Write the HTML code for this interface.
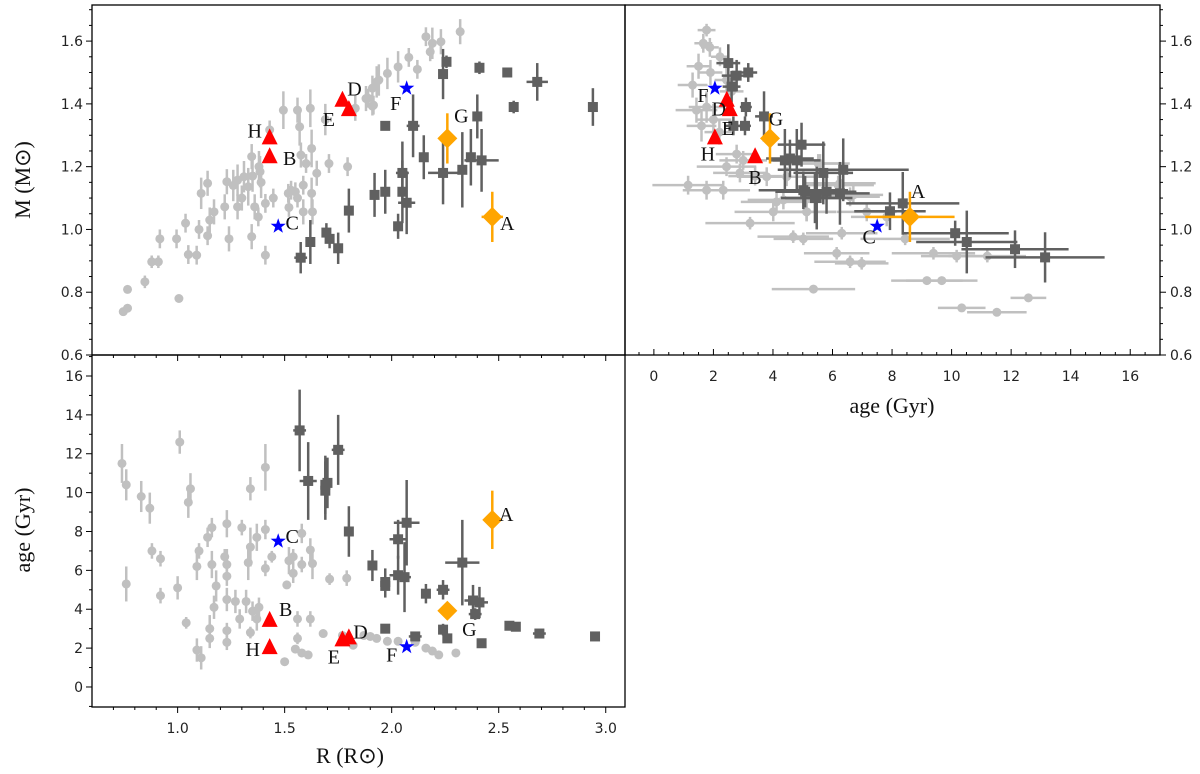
<!DOCTYPE html>
<html><head><meta charset="utf-8"><style>
html,body{margin:0;padding:0;background:#fff}
svg{display:block}
.tk{font-family:"DejaVu Sans","Liberation Sans",sans-serif;font-size:14px;fill:#222}
.ax{font-family:"Liberation Serif",serif;font-size:22px;fill:#111}
.lb{font-family:"Liberation Serif",serif;font-size:20px;fill:#111}
</style></head><body>
<svg id="chart" width="1200" height="774" viewBox="0 0 1200 774" xmlns="http://www.w3.org/2000/svg"></svg>
<script>
// ---- data ----
const specialNames=["A","B","C","D","E","F","G","H"];
const specialType=["diamond","tri","star","tri","tri","star","diamond","tri"];
const specialR=[2.47,1.43,1.47,1.77,1.80,2.07,2.26,1.43];
const specialM=[1.04,1.23,1.01,1.41,1.38,1.45,1.29,1.29];
const specialAge=[8.6,3.4,7.5,2.45,2.55,2.05,3.9,2.05];
const specialAge3=[8.6,3.4,7.5,2.4,2.5,2.07,3.92,2.0];
const specialErrM=[0.08,0,0,0,0,0,0.08,0];
const specialErrAge=[1.5,0,0,0,0,0,0,0];
const specialErrAge3=[1.5,0,0,0,0,0,0,0];
// light grey sample: panel 1 [R, M, errM]
const lightRM=[[0.746,0.738,0.01],[0.766,0.749,0.01],[0.766,0.809,0.01],[0.847,0.833,0.02],[0.879,0.897,0.02],[0.91,0.897,0.02],[0.917,0.97,0.03],[0.995,0.97,0.03],[1.006,0.78,0.01],[1.037,1.02,0.03],[1.05,0.92,0.03],[1.089,0.918,0.03],[1.10,1.0,0.03],[1.15,1.03,0.04],[1.14,0.98,0.03],[1.11,1.115,0.05],[1.14,1.147,0.04],[1.17,1.056,0.04],[1.23,1.152,0.04],[1.22,1.072,0.04],[1.24,0.97,0.04],[1.28,1.157,0.05],[1.28,1.072,0.04],[1.31,1.168,0.05],[1.33,1.136,0.06],[1.346,1.232,0.04],[1.346,0.977,0.04],[1.36,1.072,0.04],[1.377,1.04,0.03],[1.385,1.184,0.05],[1.41,1.083,0.03],[1.41,0.918,0.03],[1.447,1.10,0.03],[1.43,1.317,0.03],[1.494,1.38,0.06],[1.517,1.115,0.03],[1.55,1.12,0.03],[1.57,1.327,0.06],[1.576,1.237,0.04],[1.587,1.141,0.03],[1.62,1.386,0.06],[1.626,1.258,0.06],[1.626,1.115,0.05],[1.587,1.056,0.04],[1.63,1.056,0.04],[1.65,1.179,0.04],[1.707,1.21,0.03],[1.794,1.2,0.03],[1.69,1.35,0.05],[1.83,1.386,0.04],[1.88,1.417,0.04],[1.915,1.396,0.03],[1.93,1.47,0.05],[1.98,1.497,0.05],[2.16,1.614,0.03],[2.19,1.593,0.05],[2.23,1.598,0.04],[2.18,1.566,0.03],[2.32,1.63,0.04],[2.08,1.548,0.03],[2.12,1.51,0.03],[2.03,1.518,0.05],[1.94,1.476,0.05],[1.91,1.45,0.04],[1.89,1.418,0.03],[1.91,1.393,0.03],[1.56,1.38,0.04],[1.60,1.21,0.03],[1.56,1.10,0.03],[1.53,1.125,0.03],[1.52,1.07,0.03],[1.38,1.20,0.05],[1.35,1.17,0.05],[1.39,1.15,0.05],[1.30,1.10,0.04],[1.26,1.14,0.05]];
// dark grey sample: panel 1 [R, M, errR, errM]
const darkRM=[[2.256,1.534,0.01,0.02],[2.24,1.495,0.01,0.08],[2.41,1.515,0.01,0.02],[2.54,1.50,0.02,0.01],[2.68,1.47,0.05,0.06],[2.94,1.39,0.01,0.06],[2.57,1.39,0.01,0.02],[2.40,1.36,0.01,0.07],[1.97,1.33,0.01,0.01],[2.10,1.33,0.03,0.1],[2.15,1.23,0.02,0.07],[2.37,1.23,0.02,0.09],[2.42,1.22,0.08,0.1],[2.24,1.18,0.07,0.1],[2.33,1.19,0.02,0.12],[2.05,1.18,0.03,0.1],[2.05,1.12,0.02,0.1],[2.07,1.085,0.04,0.1],[1.97,1.12,0.02,0.07],[1.92,1.11,0.02,0.07],[2.03,1.01,0.02,0.04],[1.80,1.06,0.02,0.07],[1.695,0.99,0.01,0.03],[1.71,0.97,0.01,0.03],[1.62,0.96,0.02,0.07],[1.75,0.94,0.02,0.05],[1.575,0.91,0.03,0.05]];
// panel 2 light [age, M, errAge, errM]
const lightAgeM=[[1.77,1.635,0.3,0.02],[1.66,1.593,0.3,0.03],[1.88,1.58,0.3,0.03],[2.22,1.55,0.3,0.03],[1.5,1.52,0.4,0.04],[1.9,1.50,0.4,0.04],[1.3,1.46,0.5,0.04],[1.43,1.38,0.7,0.04],[1.77,1.39,0.6,0.05],[2.0,1.35,0.6,0.05],[1.6,1.33,0.5,0.05],[2.2,1.31,0.5,0.04],[2.44,1.476,0.4,0.04],[2.61,1.44,0.4,0.04],[2.78,1.24,0.7,0.03],[2.44,1.20,1.0,0.03],[2.89,1.18,0.9,0.03],[1.15,1.141,1.2,0.03],[1.77,1.125,0.8,0.03],[2.33,1.125,0.9,0.03],[3.79,1.168,1.0,0.03],[4.46,1.168,1.0,0.03],[4.12,1.088,1.2,0.03],[5.13,1.056,1.0,0.03],[3.23,1.02,1.5,0.02],[4.68,0.977,1.2,0.02],[5.02,0.97,1.0,0.02],[5.58,1.21,1.0,0.03],[6.25,1.147,1.2,0.03],[6.59,1.104,1.0,0.03],[5.52,1.21,0.8,0.03],[6.19,1.141,1.2,0.03],[4.35,1.094,1.2,0.03],[4.01,1.056,1.3,0.03],[5.13,1.056,1.0,0.03],[6.31,0.988,1.2,0.02],[6.14,0.924,1.1,0.02],[6.59,0.897,1.2,0.02],[6.98,0.892,0.9,0.02],[8.44,0.97,1.5,0.02],[9.39,0.924,1.4,0.02],[10.17,0.915,1.2,0.02],[11.2,0.915,1.3,0.02],[5.36,0.81,1.4,0.01],[9.17,0.837,1.2,0.01],[9.67,0.837,1.2,0.01],[10.34,0.75,0.8,0.01],[11.52,0.736,1.0,0.01],[12.58,0.782,0.6,0.01],[6.7,1.11,1.0,0.03],[7.15,1.056,1.0,0.03],[7.82,1.04,1.2,0.03],[3.0,1.22,0.8,0.03],[3.4,1.17,0.9,0.03]];
// panel 2 dark [age, M, errAge, errM]
const darkAgeM=[[2.5,1.53,0.4,0.06],[3.17,1.50,0.3,0.03],[2.78,1.49,0.5,0.05],[2.61,1.455,0.3,0.05],[3.09,1.39,0.2,0.03],[3.06,1.33,0.2,0.03],[2.67,1.33,0.3,0.03],[3.70,1.36,0.3,0.08],[4.96,1.27,0.8,0.07],[4.40,1.22,0.5,0.1],[4.80,1.22,0.8,0.1],[6.36,1.19,2.2,0.1],[5.69,1.18,1.0,0.1],[5.02,1.125,1.5,0.06],[5.41,1.10,1.0,0.08],[5.80,1.12,1.0,0.07],[4.57,1.226,0.8,0.06],[5.08,1.12,1.0,0.05],[5.47,1.10,1.2,0.1],[6.25,1.115,1.0,0.1],[8.36,1.083,1.9,0.1],[7.93,1.058,1.2,0.06],[10.12,0.988,1.8,0.04],[10.51,0.96,1.7,0.1],[12.13,0.937,1.8,0.06],[13.14,0.911,2.0,0.08]];
// panel 3 light [R, age, errAge]
const lightRAge=[[0.74,11.5,1.0],[0.76,10.4,0.8],[0.83,9.8,0.8],[0.87,9.2,0.8],[1.01,12.6,0.6],[1.06,10.2,0.8],[1.05,9.5,0.8],[1.34,10.2,0.6],[1.41,11.3,1.2],[0.76,5.3,0.9],[0.88,7.0,0.4],[0.92,6.6,0.4],[0.92,4.7,0.4],[1.0,5.1,0.6],[1.04,3.3,0.3],[1.09,6.2,0.7],[1.10,7.0,0.4],[1.09,1.9,0.6],[1.11,1.5,0.6],[1.15,3.0,0.7],[1.14,7.7,0.5],[1.16,8.2,0.5],[1.16,6.3,0.7],[1.15,2.5,0.5],[1.17,4.1,0.6],[1.18,5.2,0.8],[1.22,6.7,0.4],[1.23,6.3,0.8],[1.23,5.7,0.5],[1.23,8.4,0.7],[1.23,4.5,0.6],[1.23,2.9,0.4],[1.23,2.3,0.4],[1.27,4.4,0.6],[1.29,3.5,0.5],[1.30,8.2,0.4],[1.32,4.4,0.6],[1.33,6.4,0.9],[1.34,7.2,1.0],[1.35,3.9,0.5],[1.37,3.5,0.6],[1.34,2.8,0.3],[1.37,7.7,0.7],[1.38,4.1,0.5],[1.41,6.1,0.4],[1.41,8.1,0.5],[1.44,6.7,0.3],[1.50,1.3,0.1],[1.51,5.25,0.1],[1.52,6.5,0.7],[1.54,6.7,0.4],[1.54,5.85,0.5],[1.56,3.5,0.4],[1.56,2.5,0.3],[1.55,1.95,0.1],[1.58,1.75,0.1],[1.61,1.65,0.1],[1.58,7.9,0.5],[1.58,6.3,0.4],[1.62,7.05,0.6],[1.63,6.35,0.8],[1.62,3.5,0.4],[1.71,5.55,0.3],[1.68,2.75,0.1],[1.79,5.6,0.4],[1.77,2.65,0.2],[1.82,2.15,0.1],[1.87,2.65,0.1],[1.90,2.6,0.1],[1.93,2.5,0.1],[1.98,2.35,0.1],[2.03,2.35,0.1],[2.11,2.3,0.1],[2.16,2.0,0.1],[2.19,1.85,0.1],[2.22,1.65,0.1],[2.30,1.75,0.1]];
// panel 3 dark [R, age, errR, errAge]
const darkRAge=[[1.57,13.2,0.03,2.1],[1.61,10.6,0.04,2.0],[1.69,10.4,0.02,1.5],[1.70,10.5,0.02,1.3],[1.69,10.1,0.02,1.5],[1.75,12.2,0.03,1.8],[1.80,8.0,0.02,1.3],[1.91,6.25,0.02,0.8],[1.97,5.4,0.02,0.7],[1.97,5.2,0.02,0.6],[2.03,7.6,0.04,1.0],[2.03,5.75,0.04,1.0],[2.07,8.45,0.06,2.2],[2.06,5.65,0.03,1.8],[2.16,4.8,0.02,0.5],[2.24,5.0,0.03,0.5],[2.33,6.4,0.08,2.2],[2.38,4.45,0.04,0.8],[2.41,4.35,0.04,0.8],[2.39,3.75,0.03,0.3],[2.24,2.95,0.01,0.3],[2.26,2.5,0.01,0.2],[1.97,3.0,0.02,0.1],[2.11,2.6,0.03,0.1],[2.42,2.25,0.01,0.1],[2.55,3.15,0.01,0.1],[2.58,3.1,0.02,0.1],[2.69,2.75,0.03,0.1],[2.95,2.6,0.02,0.1]];
const tickM=["0.6","0.8","1.0","1.2","1.4","1.6"];
const tickR=["1.0","1.5","2.0","2.5","3.0"];
const tickAge=["0","2","4","6","8","10","12","14","16"];

// ---- drawing ----
const NS="http://www.w3.org/2000/svg";
const svg=document.getElementById('chart');
function el(tag,attrs,parent,txt){const e=document.createElementNS(NS,tag);for(const k in attrs)e.setAttribute(k,attrs[k]);if(txt!==undefined)e.textContent=txt;(parent||svg).appendChild(e);return e;}
function scale(d0,d1,r0,r1){return v=>r0+(v-d0)/(d1-d0)*(r1-r0);}
const P1={x0:92,x1:625,y0:5,y1:355};
const P2={x0:625,x1:1160,y0:5,y1:355};
const P3={x0:92,x1:625,y0:355,y1:707};
const xR=scale(0.6,3.09,92,625), yM=scale(0.6,1.715,355,5);
const xA=scale(-0.97,17.0,625,1160), yA=scale(-1.03,17.08,707,355);
const LIGHT="#c0c0c0", DARK="#606060";

function errLine(g,x1,y1,x2,y2,c){
  const l=el('line',{x1:x1,y1:y1,x2:x2,y2:y2,stroke:c,'stroke-width':2.5},g);
  
  
}
function marker(g,type,x,y,c){
  let m;
  if(type==='circle') m=el('circle',{cx:x,cy:y,r:4.5,fill:c},g);
  else if(type==='square') m=el('rect',{x:x-5,y:y-5,width:10,height:10,fill:c},g);
  else if(type==='tri') m=el('polygon',{points:`${x},${y-10} ${x-8},${y+6} ${x+8},${y+6}`,fill:'#ff0000'},g);
  else if(type==='diamond') m=el('polygon',{points:`${x},${y-10} ${x+10},${y} ${x},${y+10} ${x-10},${y}`,fill:'#ffa500'},g);
  else { let p=[];for(let i=0;i<10;i++){const r=i%2?3.2:8,a=-Math.PI/2+i*Math.PI/5;p.push((x+r*Math.cos(a)).toFixed(1)+','+(y+r*Math.sin(a)).toFixed(1));} m=el('polygon',{points:p.join(' '),fill:'#0000ff'},g);}
  return m;
}
function scatter(name,pts,fx,fy,type,col,hasEx,hasEy,exIdx,eyIdx){
  const g=el('g',{});
  
  
  pts.forEach(p=>{
    const x=fx(p[0]),y=fy(p[1]);
    if(hasEx&&p[exIdx]) errLine(g,fx(p[0]-p[exIdx]),y,fx(p[0]+p[exIdx]),y,col);
    if(hasEy&&p[eyIdx]) errLine(g,x,fy(p[1]-p[eyIdx]),x,fy(p[1]+p[eyIdx]),col);
  });
  pts.forEach(p=>{
    const m=marker(g,type,fx(p[0]),fy(p[1]),col);
    
    
  });
}
function specials(panel,xs,ys,exs,eys,fx,fy,offs){
  const g=el('g',{});
  
  
  specialNames.forEach((n,i)=>{
    const x=fx(xs[i]),y=fy(ys[i]);
    const col=specialType[i]==='diamond'?'#ffa500':'#ff0000';
    if(exs&&exs[i]) errLine(g,fx(xs[i]-exs[i]),y,fx(xs[i]+exs[i]),y,col);
    if(eys&&eys[i]) errLine(g,x,fy(ys[i]-eys[i]),x,fy(ys[i]+eys[i]),col);
    const m=marker(g,specialType[i],x,y);
    
    
    const t=el('text',{x:x+offs[i][0],y:y+offs[i][1]+7,'text-anchor':'middle',class:'lb'},g,n);
    
    
  });
}
function frame(P,name){
  const r=el('rect',{x:P.x0,y:P.y0,width:P.x1-P.x0,height:P.y1-P.y0,fill:'none',stroke:'#000','stroke-width':1.3});
  
  
}
function ticksX(P,f,lo,hi,maj,min,labels,dir,labelFn,name){
  const g=el('g',{});
  
  
  for(let v=lo;v<=hi+1e-9;v+=min){const x=f(v);const isMaj=Math.abs(v/maj-Math.round(v/maj))<1e-6;const L=isMaj?6:3;
    el('line',{x1:x,y1:P.y1,x2:x,y2:P.y1+dir*L,stroke:'#000','stroke-width':1},g);}
  if(labels) labels.forEach(s=>{const v=parseFloat(s);el('text',{x:f(v),y:P.y1+labelFn,'text-anchor':'middle',class:'tk'},g,s);});
}
function ticksY(P,f,lo,hi,maj,min,labels,side,dir,name){
  const g=el('g',{});
  
  
  const x0=side==='left'?P.x0:P.x1;
  for(let v=lo;v<=hi+1e-9;v+=min){const y=f(v);const isMaj=Math.abs(v/maj-Math.round(v/maj))<1e-6;const L=isMaj?6:3;
    el('line',{x1:x0,y1:y,x2:x0+dir*L,y2:y,stroke:'#000','stroke-width':1},g);}
  if(labels) labels.forEach(s=>{const v=parseFloat(s);
    if(side==='left') el('text',{x:x0-9,y:f(v)+5,'text-anchor':'end',class:'tk'},g,s);
    else el('text',{x:x0+10,y:f(v)+5,'text-anchor':'start',class:'tk'},g,s);});
}

scatter('light-stars-mass-radius',lightRM,xR,yM,'circle',LIGHT,false,true,0,2);
scatter('dark-stars-mass-radius',darkRM,xR,yM,'square',DARK,true,true,2,3);
specials('p1',specialR,specialM,[0.05,0,0,0,0,0,0.02,0],specialErrM,xR,yM,[[15,6],[20,1],[14,-4],[12,-12],[-20,9],[-11,15],[14,-23],[-15,-8]]);
scatter('light-stars-mass-age',lightAgeM,xA,yM,'circle',LIGHT,true,true,2,3);
scatter('dark-stars-mass-age',darkAgeM,xA,yM,'square',DARK,true,true,2,3);
specials('p2',specialAge,specialM,specialErrAge,specialErrM,xA,yM,[[8,-26],[0,20],[-8,10],[-8,8],[-2,18],[-12,7],[6,-20],[-7,15]]);
scatter('light-stars-age-radius',lightRAge,xR,yA,'circle',LIGHT,false,true,0,2);
scatter('dark-stars-age-radius',darkRAge,xR,yA,'square',DARK,true,true,2,3);
specials('p3',specialR,specialAge3,[0.02,0,0,0,0,0,0,0],specialErrAge3,xR,yA,[[14,-6],[16,-12],[14,-5],[18,-9],[-15,18],[-15,8],[22,18],[-17,1]]);

// axes
frame(P1,'mass-radius-frame');frame(P2,'mass-age-frame');frame(P3,'age-radius-frame');
ticksY(P1,yM,0.6,1.7,0.2,0.05,tickM,'left',-1,'y-axis-mass-ticks');
ticksX(P1,xR,0.7,3.05,0.5,0.1,null,1,0,'x-axis-radius-ticks-top-panel');
ticksY(P3,yA,-1,17,2,1,tickAge,'left',-1,'y-axis-age-ticks');
ticksX(P3,xR,0.7,3.05,0.5,0.1,tickR,1,26,'x-axis-radius-ticks');
ticksY(P2,yM,0.6,1.7,0.2,0.05,tickM,'right',1,'y-axis-mass-right-ticks');
ticksX(P2,xA,-0.5,16.5,2,0.5,tickAge,-1,26,'x-axis-age-ticks');

// titles
let t;
t=el('text',{x:30,y:180,transform:'rotate(-90 30 180)','text-anchor':'middle',class:'ax'},svg,'M (M\u2299)');

t=el('text',{x:30,y:530,transform:'rotate(-90 30 530)','text-anchor':'middle',class:'ax'},svg,'age (Gyr)');

t=el('text',{x:350,y:763,'text-anchor':'middle',class:'ax'},svg,'R (R\u2299)');

t=el('text',{x:892,y:413,'text-anchor':'middle',class:'ax'},svg,'age (Gyr)');

</script>
</body></html>
